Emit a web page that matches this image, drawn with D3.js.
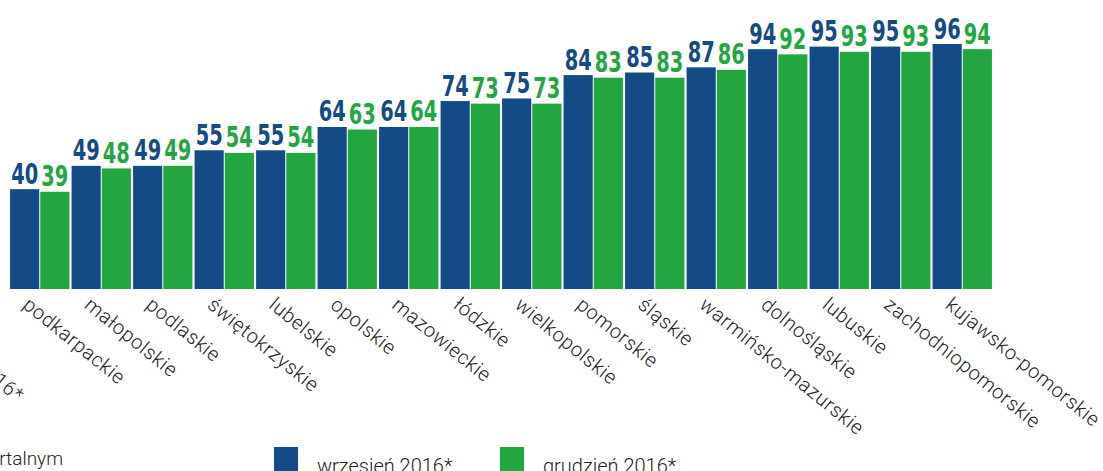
<!DOCTYPE html>
<html>
<head>
<meta charset="utf-8">
<script src="https://cdn.jsdelivr.net/npm/d3@7"></script>
<style>
  html, body { margin: 0; padding: 0; background: #fff; overflow: hidden; }
</style>
</head>
<body>
<svg width="1103" height="471"></svg>
<script>
// województwa, posortowane rosnąco
var regions = ['podkarpackie', 'małopolskie', 'podlaskie', 'świętokrzyskie', 'lubelskie', 'opolskie',
  'mazowieckie', 'łódzkie', 'wielkopolskie', 'pomorskie', 'śląskie', 'warmińsko-mazurskie',
  'dolnośląskie', 'lubuskie', 'zachodniopomorskie', 'kujawsko-pomorskie']
var wrzesien = [40, 49, 49, 55, 55, 64, 64, 74, 75, 84, 85, 87, 94, 95, 95, 96]
var grudzien = [39, 48, 49, 54, 54, 63, 64, 73, 73, 83, 83, 86, 92, 93, 93, 94]
var seriesNames = ['wrzesień 2016*', 'grudzień 2016*']
var colors = ['#144a85', '#23a640']

var svg = d3.select('svg')
var baseY = 289
var labFont = 'Roboto, sans-serif'
var angle = 39

var x0 = d3.scaleBand().domain(regions).range([9, 993])
  .paddingInner(0.035).paddingOuter(0.0175)
var x1 = d3.scaleBand().domain([0, 1]).range([0, x0.bandwidth()]).paddingInner(0.034)
var y = d3.scaleLinear().domain([1.5, 96]).range([baseY, 44])

var rows = regions.map(function (r, i) {
  return { region: r, vals: [wrzesien[i], grudzien[i]] }
})

var g = svg.selectAll('g.grp').data(rows).enter().append('g')
  .attr('class', 'grp')
  .attr('transform', function (d) { return 'translate(' + x0(d.region) + ',0)' })

g.selectAll('rect').data(function (d) { return d.vals }).enter().append('rect')
  .attr('x', function (d, i) { return x1(i) })
  .attr('y', function (d) { return y(d) })
  .attr('width', x1.bandwidth())
  .attr('height', function (d) { return baseY - y(d) })
  .attr('fill', function (d, i) { return colors[i] })

// wartości nad słupkami (wąska, pogrubiona cyfra)
g.selectAll('text.val').data(function (d) { return d.vals }).enter().append('text')
  .attr('class', 'val')
  .attr('x', function (d, i) { return x1(i) + x1.bandwidth() / 2 - 13.5 })
  .attr('y', function (d) { return y(d) - 5.5 })
  .attr('textLength', 27)
  .attr('lengthAdjust', 'spacingAndGlyphs')
  .attr('font-family', '"DejaVu Sans Condensed", "DejaVu Sans", sans-serif')
  .attr('font-weight', 'bold')
  .attr('font-size', 27.5)
  .attr('fill', function (d, i) { return colors[i] })
  .text(function (d) { return d })

// etykiety osi X, obrócone
svg.selectAll('text.lab').data(regions).enter().append('text')
  .attr('class', 'lab')
  .attr('transform', function (d) {
    return 'translate(' + (x0(d) + x0.bandwidth() / 2 - 18) + ',307) rotate(' + angle + ')'
  })
  .attr('font-family', labFont)
  .attr('font-weight', 300)
  .attr('font-size', 20)
  .attr('letter-spacing', 0.6)
  .attr('fill', '#222')
  .text(function (d) { return d })

// fragmenty tekstu uciętego przy krawędzi
svg.append('text')
  .attr('transform', 'translate(17,403) rotate(' + angle + ')')
  .attr('text-anchor', 'end')
  .attr('font-family', labFont).attr('font-weight', 300)
  .attr('font-size', 20).attr('letter-spacing', 0.6).attr('fill', '#222')
  .text('2016*')

svg.append('text')
  .attr('x', 63).attr('y', 465)
  .attr('text-anchor', 'end')
  .attr('font-family', labFont).attr('font-weight', 300)
  .attr('font-size', 19).attr('fill', '#222')
  .text('kwartalnym')

// legenda
var legX = [274, 500]
var leg = svg.selectAll('g.leg').data(seriesNames).enter().append('g')
  .attr('class', 'leg')
  .attr('transform', function (d, i) { return 'translate(' + legX[i] + ',447)' })
leg.append('rect').attr('width', 24).attr('height', 30)
  .attr('fill', function (d, i) { return colors[i] })
leg.append('text').attr('x', 43).attr('y', 26)
  .attr('font-family', labFont).attr('font-weight', 300)
  .attr('font-size', 20).attr('fill', '#222')
  .text(function (d) { return d })
</script>
</body>
</html>
